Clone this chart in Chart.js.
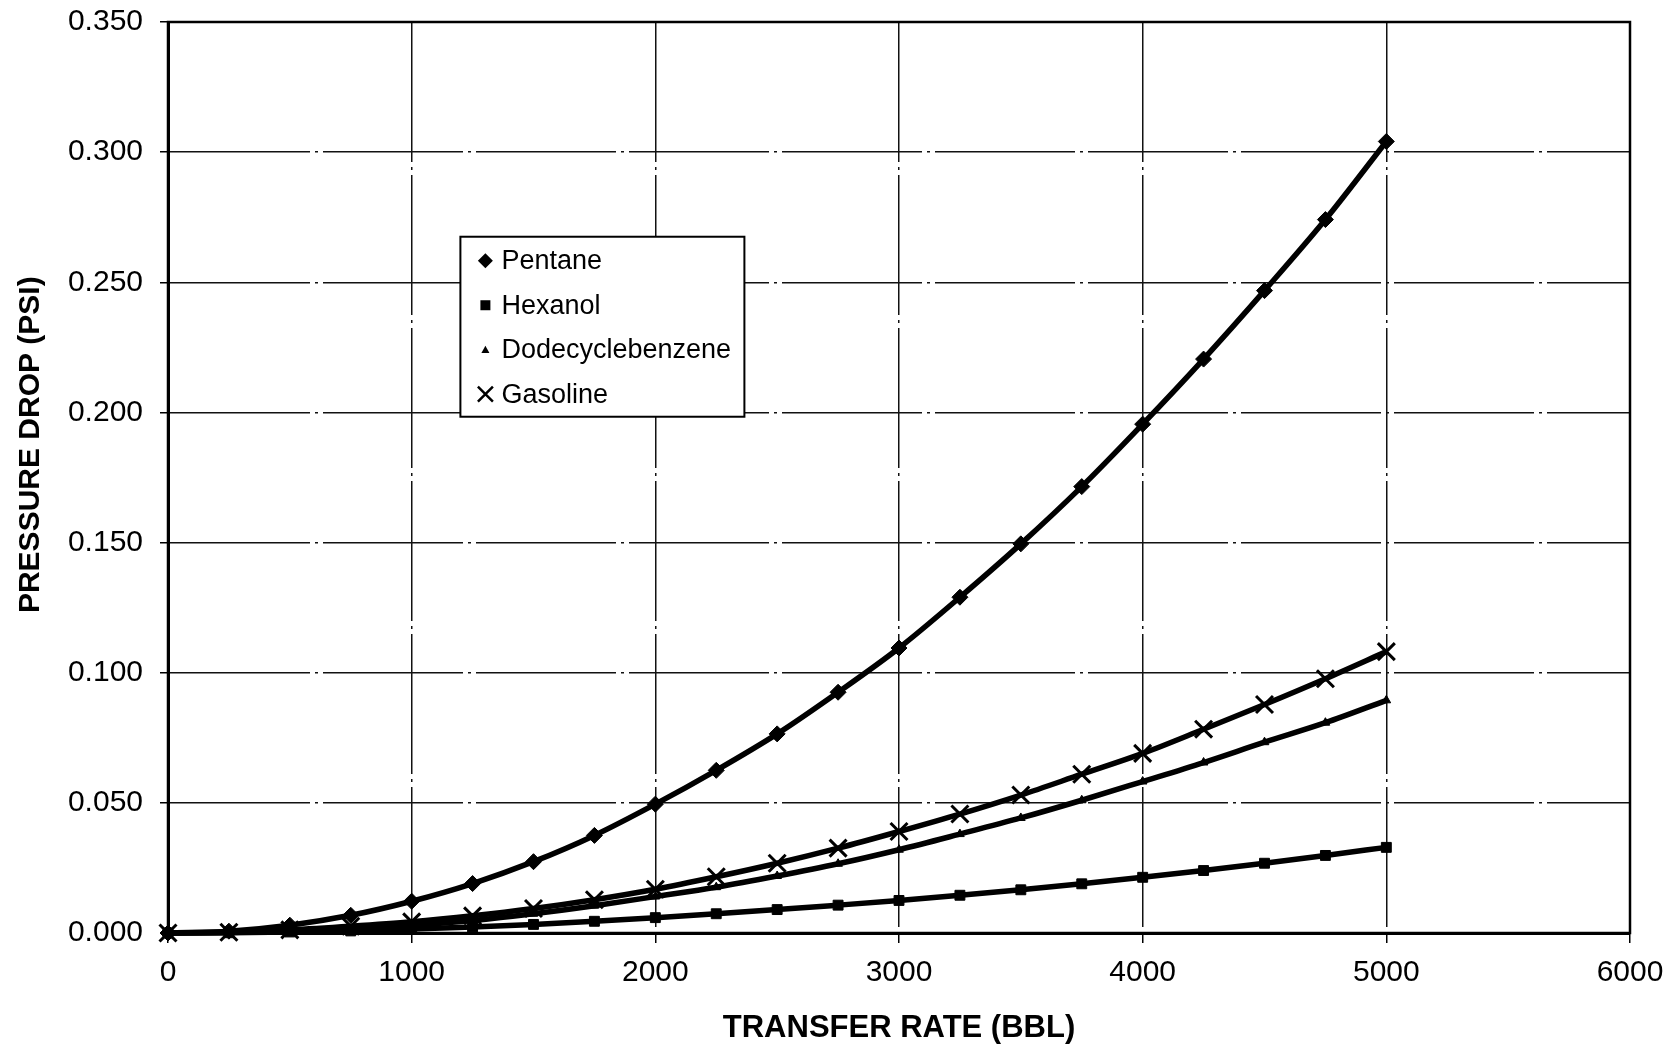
<!DOCTYPE html>
<html>
<head>
<meta charset="utf-8">
<title>Pressure drop vs transfer rate</title>
<script src="https://cdn.jsdelivr.net/npm/chart.js@4/dist/chart.umd.min.js"></script>
<style>
  html, body { margin: 0; padding: 0; background: #fff; }
  canvas { display: block; }
</style>
</head>
<body>
<canvas id="pressureChart" width="1668" height="1044"></canvas>
<script>
// transfer rate (BBL)
const rates = [0, 250, 500, 750, 1000, 1250, 1500, 1750, 2000, 2250, 2500,
               2750, 3000, 3250, 3500, 3750, 4000, 4250, 4500, 4750, 5000]

// pressure drop (PSI)
const pentane = [0, 0.0007, 0.003, 0.0068, 0.0122, 0.019, 0.0274, 0.0375, 0.0495, 0.0625, 0.0765,
                 0.0925, 0.1095, 0.129, 0.1495, 0.1715, 0.1955, 0.2205, 0.2468, 0.2741, 0.3041]
const hexanol = [0, 0.0001, 0.0004, 0.0008, 0.0015, 0.0023, 0.0033, 0.0045, 0.0059, 0.0074, 0.009,
                 0.0107, 0.0125, 0.0145, 0.0166, 0.0189, 0.0214, 0.024, 0.0268, 0.0298, 0.0329]
const dodecyl = [0, 0.0002, 0.0007, 0.0016, 0.0029, 0.0048, 0.0074, 0.0105, 0.014, 0.0176, 0.0219,
                 0.0266, 0.032, 0.038, 0.0442, 0.051, 0.0582, 0.0655, 0.0733, 0.0808, 0.0894]
const gasoline = [0, 0.0003, 0.0012, 0.0026, 0.0043, 0.0066, 0.0094, 0.0128, 0.0168, 0.0216, 0.0268,
                  0.0326, 0.039, 0.0457, 0.053, 0.061, 0.069, 0.0783, 0.0878, 0.0977, 0.1081]

const seriesNames = ['Pentane', 'Hexanol', 'Dodecyclebenzene', 'Gasoline']

const FONT = '"Liberation Sans", Arial, Helvetica, sans-serif'

const toPoints = vals => vals.map((v, i) => ({x: rates[i], y: v}))

function series(label, values, style, radius, bw) {
    return {
        label: label,
        data: toPoints(values),
        borderColor: '#000',
        backgroundColor: '#000',
        borderWidth: 5.5,
        pointStyle: style,
        pointRadius: radius,
        pointBorderWidth: bw,
        pointBackgroundColor: '#000',
        pointBorderColor: '#000',
        cubicInterpolationMode: 'monotone',
        clip: false
    }
}

// little marker shapes for the boxed legend
function marker(ctx, style, x, y, r) {
    ctx.save()
    ctx.fillStyle = '#000'
    ctx.strokeStyle = '#000'
    ctx.beginPath()
    if (style === 'rectRot') {
        ctx.moveTo(x, y - r); ctx.lineTo(x + r, y); ctx.lineTo(x, y + r); ctx.lineTo(x - r, y)
        ctx.closePath(); ctx.fill()
    } else if (style === 'rect') {
        ctx.rect(x - r, y - r, 2 * r, 2 * r); ctx.fill()
    } else if (style === 'triangle') {
        ctx.moveTo(x, y - r); ctx.lineTo(x + r, y + r * 0.8); ctx.lineTo(x - r, y + r * 0.8)
        ctx.closePath(); ctx.fill()
    } else {
        ctx.lineWidth = 2.5
        ctx.moveTo(x - r, y - r); ctx.lineTo(x + r, y + r)
        ctx.moveTo(x + r, y - r); ctx.lineTo(x - r, y + r)
        ctx.stroke()
    }
    ctx.restore()
}

const framePlugin = {
    id: 'frame',
    beforeDatasetsDraw(chart) {
        const {ctx, chartArea: a} = chart
        ctx.save()
        ctx.strokeStyle = '#000'
        ctx.lineWidth = 2.5
        ctx.strokeRect(a.left, a.top, a.right - a.left, a.bottom - a.top)
        ctx.restore()
    }
}

const yTitlePlugin = {
    id: 'yTitle',
    afterDraw(chart) {
        const {ctx, chartArea: a} = chart
        ctx.save()
        ctx.translate(a.left - 137, a.top + (a.bottom - a.top) * 0.464)
        ctx.rotate(-Math.PI / 2)
        ctx.font = 'bold 30px ' + FONT
        ctx.fillStyle = '#000'
        ctx.textAlign = 'center'
        ctx.textBaseline = 'middle'
        ctx.fillText('PRESSURE DROP (PSI)', 0, 0)
        ctx.restore()
    }
}

const boxLegendPlugin = {
    id: 'boxLegend',
    afterDraw(chart) {
        const {ctx, scales} = chart
        const left = scales.x.getPixelForValue(1200)
        const top = scales.y.getPixelForValue(0.2675)
        const w = 284, h = 180
        ctx.save()
        ctx.fillStyle = '#fff'
        ctx.fillRect(left, top, w, h)
        ctx.strokeStyle = '#000'
        ctx.lineWidth = 2
        ctx.strokeRect(left, top, w, h)
        const styles = [['rectRot', 7.5], ['rect', 5], ['triangle', 4], ['cross', 7.5]]
        ctx.font = '27px ' + FONT
        ctx.textBaseline = 'middle'
        seriesNames.forEach((name, i) => {
            const cy = top + 24 + i * 44.5
            marker(ctx, styles[i][0], left + 25, cy, styles[i][1])
            ctx.fillStyle = '#000'
            ctx.fillText(name, left + 41, cy + 1)
        })
        ctx.restore()
    }
}

new Chart(document.getElementById('pressureChart'), {
    type: 'line',
    data: {
        datasets: [
            series(seriesNames[0], pentane, 'rectRot', 8, 1),
            series(seriesNames[1], hexanol, 'rect', 7, 1),
            series(seriesNames[2], dodecyl, 'triangle', 5, 1),
            series(seriesNames[3], gasoline, 'crossRot', 12, 3)
        ]
    },
    options: {
        responsive: false,
        animation: false,
        layout: {padding: {top: 22, right: 38, bottom: 0, left: 0}},
        plugins: {
            legend: {display: false},
            tooltip: {enabled: false}
        },
        scales: {
            x: {
                type: 'linear',
                min: 0,
                max: 6000,
                ticks: {
                    stepSize: 1000,
                    padding: 12,
                    color: '#000',
                    font: {family: FONT, size: 30},
                    maxRotation: 0,
                    callback: v => String(v)
                },
                grid: {color: '#111', lineWidth: 1.5, tickLength: 10, tickColor: '#000', tickWidth: 1.5},
                border: {color: '#000', width: 3, dash: [140, 5, 3, 5]},
                title: {
                    display: true,
                    text: 'TRANSFER RATE (BBL)',
                    color: '#000',
                    font: {family: FONT, size: 31, weight: 'bold', lineHeight: 1},
                    padding: {top: 0, bottom: 0}
                },
                afterFit: s => {
                    s.height = 111
                    s.paddingLeft = 0
                    s.paddingRight = 0
                }
            },
            y: {
                min: 0,
                max: 0.35,
                ticks: {
                    stepSize: 0.05,
                    padding: 17,
                    color: '#000',
                    font: {family: FONT, size: 30},
                    callback: v => v.toFixed(3)
                },
                grid: {color: '#111', lineWidth: 1.5, tickLength: 8, tickColor: '#000', tickWidth: 1.5},
                border: {color: '#000', width: 3, dash: [140, 5, 3, 5]},
                afterFit: s => {
                    s.width = 168
                    s.paddingTop = 0
                    s.paddingBottom = 0
                }
            }
        }
    },
    plugins: [framePlugin, yTitlePlugin, boxLegendPlugin]
})
</script>
</body>
</html>
